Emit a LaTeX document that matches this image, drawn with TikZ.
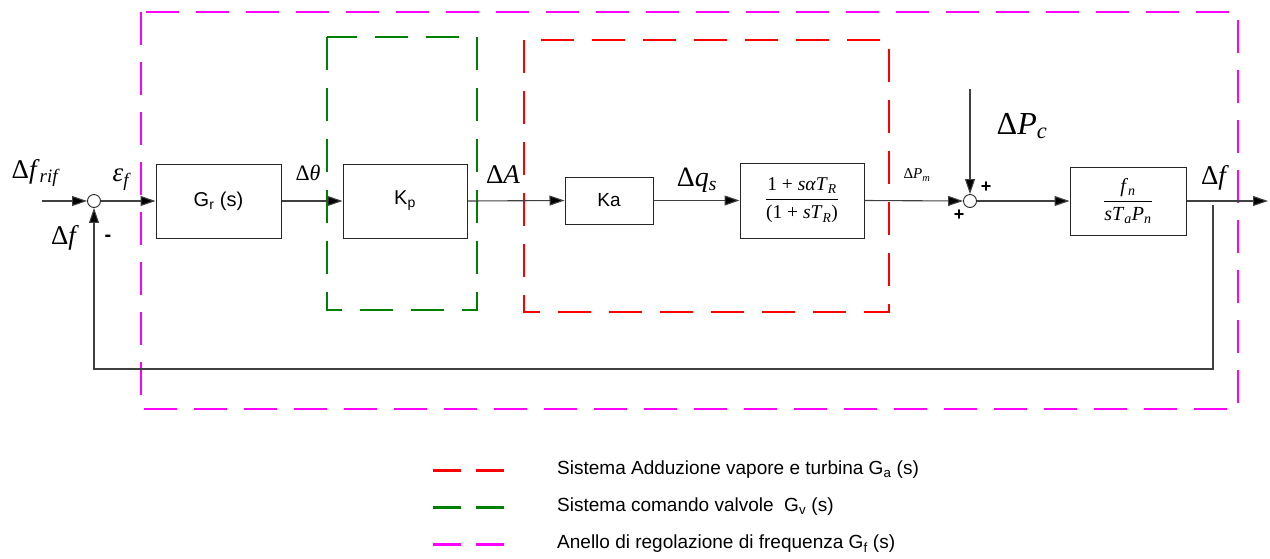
\documentclass[tikz,border=0pt]{standalone}
\usepackage{fontspec}
\setmainfont{Liberation Sans}
\newfontfamily\tms{Liberation Serif}
\usetikzlibrary{arrows.meta}
\definecolor{mag}{RGB}{255,0,255}
\definecolor{grn}{RGB}{0,128,0}
\definecolor{rd}{RGB}{255,0,0}
\tikzset{
  blk/.style={draw=black!85, line width=1pt, inner sep=0pt, font=\fontsize{20}{24}\selectfont},
  sumnode/.style={draw=black!85, circle, line width=0.9pt, minimum size=13pt, inner sep=0pt, fill=white},
  arr/.style={draw=black!75, line width=1.1pt, -{Triangle[length=15pt,width=10pt,fill=black]}},
  magdash/.style={draw=mag, line width=2pt, dash pattern=on 33pt off 17pt},
  grndash/.style={draw=grn, line width=2pt, dash pattern=on 33pt off 18pt},
  reddash/.style={draw=rd, line width=2pt, dash pattern=on 33pt off 18pt},
  legdash/.style={line width=3pt, dash pattern=on 28pt off 15pt},
  lbl/.style={inner sep=0pt},
  legtxt/.style={anchor=west, inner sep=0pt, font=\fontsize{19}{22}\selectfont},
  sgn/.style={inner sep=0pt, font=\fontsize{18}{20}\selectfont\bfseries}
}
\begin{document}
\begin{tikzpicture}[x=1pt,y=-1pt]
\useasboundingbox (0,0) rectangle (1270,558);

% dashed frames
\draw[magdash] (141,12) rectangle (1238,409);
\draw[grndash] (327,37) rectangle (477,310);
\draw[reddash] (524,40) rectangle (889,312);

% blocks
\node[blk, minimum width=125pt, minimum height=74pt] (gr) at (218.5,201) {G\textsubscript{r} (s)};
\node[blk, minimum width=124pt, minimum height=74pt] (kp) at (405,201) {K\textsubscript{p}};
\node[blk, minimum width=88pt, minimum height=47pt, font=\fontsize{19}{22}\selectfont] (ka) at (609,200.5) {Ka};
\node[blk, minimum width=124pt, minimum height=75pt] (fr) at (802,200.5)
  {\fontsize{19.5}{22}\selectfont\tms $\displaystyle\frac{\mbox{\tms 1 + \textit{s}\textit{α}\textit{T}\textsubscript{\textit{R}}}}{\mbox{\tms (1 + \textit{s}\textit{T}\textsubscript{\textit{R}})}}$};
\node[blk, minimum width=116pt, minimum height=68pt] (gf) at (1128,201)
  {\fontsize{20}{22}\selectfont\tms $\displaystyle\frac{\mbox{\tms\textit{f}\textsubscript{\textit{n}}}}{\mbox{\tms\textit{sT}\textsubscript{\textit{a}}\textit{P}\textsubscript{\textit{n}}}}$};

% summing junctions
\node[sumnode] (s1) at (94,201) {};
\node[sumnode] (s2) at (970,201) {};

% coordinates
\coordinate (in) at (42,201);
\coordinate (pc) at (970,89);
\coordinate (out) at (1268,201);
\coordinate (fb0) at (1213,205);
\coordinate (fbb) at (94,369);

% connectors
\draw[arr] (in) -- (s1.west);
\draw[arr] (s1.east) -- (gr.west);
\draw[arr] (gr.east) -- (kp.west);
\draw[arr] (kp.east) -- (ka.west);
\draw[arr] (ka.east) -- (fr.west);
\draw[arr] (fr.east) -- (s2.west);
\draw[arr] (pc) -- (s2.north);
\draw[arr] (s2.east) -- (gf.west);
\draw[arr] (gf.east) -- (out);
\draw[arr] (fb0) |- (fbb) -- (s1.south);

% labels
\node[lbl, font=\fontsize{27}{30}\selectfont\tms] (lfrif) at (36,173) {Δ\textit{f}\textsubscript{\textit{rif}}};
\node[lbl, font=\fontsize{27}{30}\selectfont\tms] (leps) at (122,180) {\textit{ε}\textsubscript{\textit{f}}};
\node[lbl, font=\fontsize{27}{30}\selectfont\tms] (lfb) at (65,238) {Δ\textit{f}};
\node[sgn, font=\fontsize{20}{22}\selectfont\bfseries] (lminus) at (108,238) {-};
\node[lbl, font=\fontsize{22}{26}\selectfont\tms] (lth) at (308,173) {Δ\textit{θ}};
\node[lbl, font=\fontsize{27}{30}\selectfont\tms] (lA) at (503,175) {Δ\textit{A}};
\node[lbl, font=\fontsize{28}{30}\selectfont\tms] (lq) at (697,180) {Δ\textit{q}\textsubscript{\textit{s}}};
\node[lbl, font=\fontsize{15}{18}\selectfont\tms] (lpm) at (917,175) {Δ\textit{P}\textsubscript{\textit{m}}};
\node[lbl, font=\fontsize{32}{36}\selectfont\tms] (lpc) at (1022,126) {Δ\textit{P}\textsubscript{\textit{c}}};
\node[lbl, font=\fontsize{27}{30}\selectfont\tms] (lfo) at (1215,178) {Δ\textit{f}};
\node[sgn] (p1) at (986,187) {+};
\node[sgn] (p2) at (959,215) {+};

% legend
\draw[legdash, rd] (433,470) -- (504,470);
\draw[legdash, grn] (433,507) -- (504,507);
\draw[legdash, mag] (433,544) -- (504,544);
\node[legtxt] (t1) at (557,470) {Sistema Adduzione vapore e turbina G\textsubscript{a} (s)};
\node[legtxt] (t2) at (557,507) {Sistema comando valvole\ \ G\textsubscript{v} (s)};
\node[legtxt] (t3) at (557,544) {Anello di regolazione di frequenza G\textsubscript{f} (s)};
\end{tikzpicture}
\end{document}
